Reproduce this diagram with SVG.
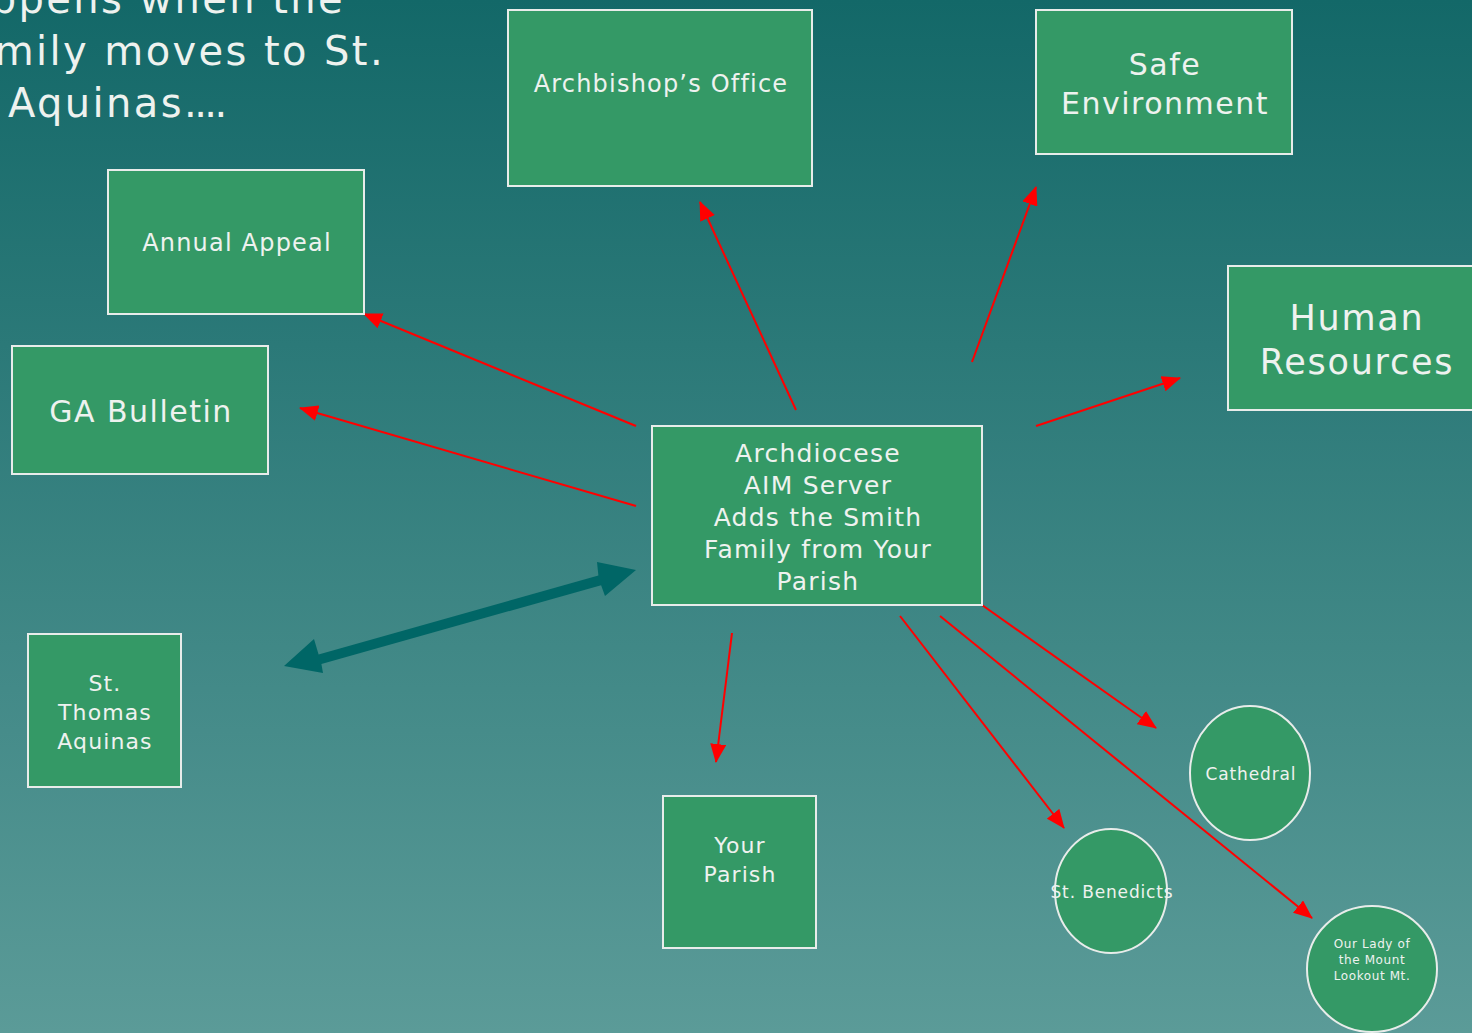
<svg xmlns="http://www.w3.org/2000/svg" width="1472" height="1033" viewBox="0 0 1472 1033">
<defs>
<linearGradient id="bg" x1="0" y1="0" x2="0" y2="1">
<stop offset="0" stop-color="#136868"/>
<stop offset="1" stop-color="#5b9b98"/>
</linearGradient>
<marker id="rh" markerUnits="userSpaceOnUse" markerWidth="20" markerHeight="16" refX="18" refY="8" orient="auto">
<path d="M0,0 L19,8 L0,16 Z" fill="#ff0000"/>
</marker>
</defs>
<style>
.box{fill:#349966;stroke:#e8ecea;stroke-width:2}
.t{fill:#eef2ef;font-family:"DejaVu Sans","Liberation Sans",sans-serif;text-anchor:middle;letter-spacing:0.05em}
.title{fill:#eef2ef;font-family:"DejaVu Sans","Liberation Sans",sans-serif;font-size:40px;letter-spacing:2.4px}
.r{stroke:#ff0000;stroke-width:2;fill:none;marker-end:url(#rh)}
</style>
<rect x="0" y="0" width="1472" height="1033" fill="url(#bg)"/>
<g id="title">
<text class="title" x="345" y="13" text-anchor="end">ppens when the</text>
<text class="title" x="385" y="65" text-anchor="end">mily moves to St.</text>
<text class="title" x="8" y="117">Aquinas<tspan letter-spacing="-2.6px">....</tspan></text>
</g>
<g id="connectors">
<line class="r" x1="636" y1="426" x2="364" y2="314"/>
<line class="r" x1="636" y1="506" x2="300" y2="408"/>
<line class="r" x1="796" y1="410" x2="700" y2="202"/>
<line class="r" x1="972" y1="362" x2="1036" y2="187"/>
<line class="r" x1="1036" y1="426" x2="1180" y2="378"/>
<line class="r" x1="732" y1="633" x2="716" y2="762"/>
<line class="r" x1="900" y1="616" x2="1064" y2="828"/>
<line class="r" x1="940" y1="616" x2="1312" y2="918"/>
<line class="r" x1="982" y1="605" x2="1156" y2="728"/>
<polygon fill="#006666" points="284,666 314,639 318.6,654.4 598.4,575.6 597,562 636,570 605,596 601.1,585.2 321.4,664 323,673"/>
</g>
<g id="archbishop">
<rect class="box" x="508" y="10" width="304" height="176"/>
<text class="t" x="661" y="92" font-size="24">Archbishop’s Office</text>
</g>
<g id="safe">
<rect class="box" x="1036" y="10" width="256" height="144"/>
<text class="t" x="1165" y="75" font-size="30">Safe</text>
<text class="t" x="1165" y="114" font-size="30">Environment</text>
</g>
<g id="annual">
<rect class="box" x="108" y="170" width="256" height="144"/>
<text class="t" x="237" y="251" font-size="24">Annual Appeal</text>
</g>
<g id="ga">
<rect class="box" x="12" y="346" width="256" height="128"/>
<text class="t" x="141" y="422" font-size="30">GA Bulletin</text>
</g>
<g id="hr">
<rect class="box" x="1228" y="266" width="260" height="144"/>
<text class="t" x="1357" y="330" font-size="35">Human</text>
<text class="t" x="1357" y="374" font-size="35">Resources</text>
</g>
<g id="server">
<rect class="box" x="652" y="426" width="330" height="179"/>
<text class="t" x="818" y="462" font-size="25">Archdiocese</text>
<text class="t" x="818" y="494" font-size="25">AIM Server</text>
<text class="t" x="818" y="526" font-size="25">Adds the Smith</text>
<text class="t" x="818" y="558" font-size="25">Family from Your</text>
<text class="t" x="818" y="590" font-size="25">Parish</text>
</g>
<g id="sta">
<rect class="box" x="28" y="634" width="153" height="153"/>
<text class="t" x="105" y="691" font-size="22">St.</text>
<text class="t" x="105" y="720" font-size="22">Thomas</text>
<text class="t" x="105" y="749" font-size="22">Aquinas</text>
</g>
<g id="parish">
<rect class="box" x="663" y="796" width="153" height="152"/>
<text class="t" x="740" y="853" font-size="22">Your</text>
<text class="t" x="740" y="882" font-size="22">Parish</text>
</g>
<g id="cathedral">
<ellipse class="box" cx="1250" cy="773" rx="60" ry="67"/>
<text class="t" x="1251" y="780" font-size="17">Cathedral</text>
</g>
<g id="benedicts">
<ellipse class="box" cx="1111" cy="891" rx="56" ry="62"/>
<text class="t" x="1112" y="898" font-size="17">St. Benedicts</text>
</g>
<g id="olm">
<ellipse class="box" cx="1372" cy="969" rx="65" ry="63"/>
<text class="t" x="1372" y="948" font-size="12">Our Lady of</text>
<text class="t" x="1372" y="964" font-size="12">the Mount</text>
<text class="t" x="1372" y="980" font-size="12">Lookout Mt.</text>
</g>
</svg>
